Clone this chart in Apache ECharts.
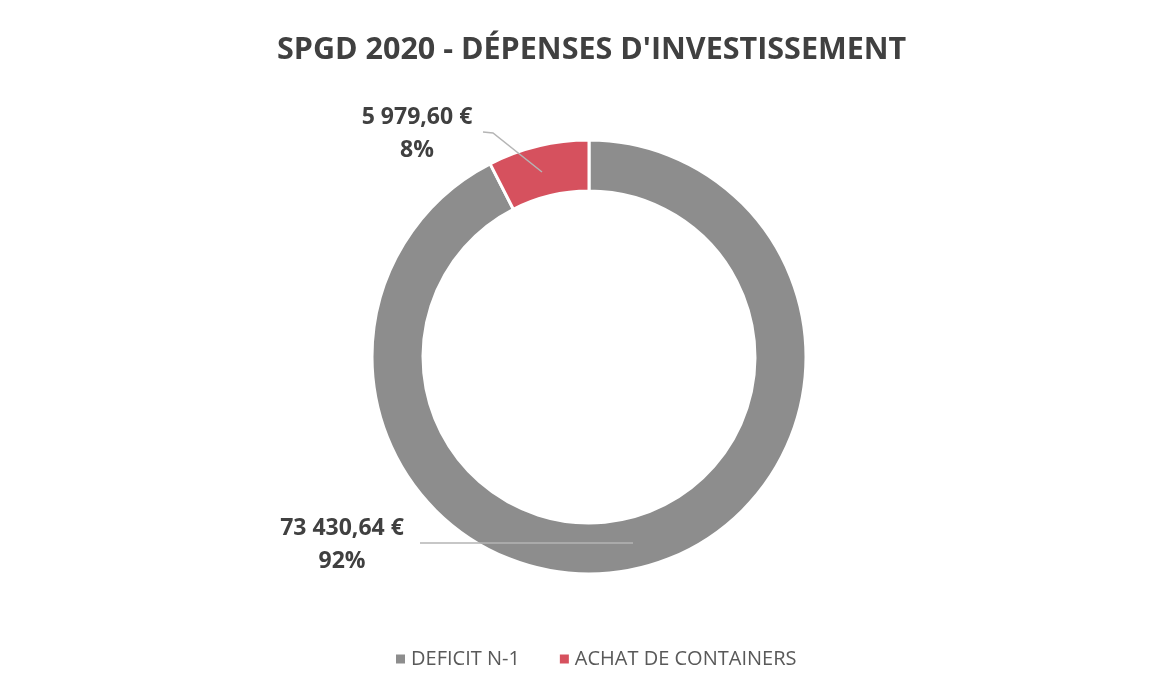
<!DOCTYPE html>
<html>
<head>
<meta charset="utf-8">
<script src="https://cdn.jsdelivr.net/npm/echarts@6/dist/echarts.min.js"></script>
<style>
  html, body { margin: 0; padding: 0; background: #fff; }
  #main { width: 1158px; height: 694px; }
</style>
</head>
<body>
<div id="main"></div>
<script>
// données du graphique
var categories = ['DEFICIT N-1', 'ACHAT DE CONTAINERS'];
var montants = [73430.64, 5979.60];
var couleurs = ['#8d8d8d', '#d6515e'];

// format "73 430,64 €"
function formatEuro(v) {
    var parts = v.toFixed(2).split('.');
    var ent = parts[0].replace(/\B(?=(\d{3})+(?!\d))/g, ' ');
    return ent + ',' + parts[1] + ' €';
}

var police = '"Open Sans", "Noto Sans", sans-serif';

// position des étiquettes (comme dans Excel)
var etiquettes = [
    { x: 342, y: 545, ligne: [[420, 543], [633, 543]] },
    { x: 417, y: 134, ligne: [[483, 132], [493, 133], [542, 172]] }
];

var donnees = categories.map(function (c, i) {
    return { name: c, value: montants[i] };
});

var centre = [589, 357];
var rayons = [166, 217];

var myChart = echarts.init(document.getElementById('main'));
var option = {
    backgroundColor: '#fff',
    title: {
        text: "SPGD 2020 - DÉPENSES D'INVESTISSEMENT",
        left: 272,
        top: 30,
        textStyle: {
            fontFamily: police,
            fontSize: 30.5,
            fontWeight: 'bold',
            color: '#404040'
        }
    },
    legend: {
        bottom: 20,
        left: 389,
        itemWidth: 11,
        itemHeight: 11,
        itemGap: 38,
        icon: 'rect',
        data: categories,
        textStyle: {
            fontFamily: police,
            fontSize: 20,
            color: '#595959'
        }
    },
    color: couleurs,
    series: [
        // anneau
        {
            name: 'Dépenses',
            type: 'pie',
            z: 2,
            center: centre,
            radius: rayons,
            startAngle: 90,
            clockwise: true,
            itemStyle: {
                borderColor: '#fff',
                borderWidth: 3
            },
            label: { show: false },
            labelLine: { show: false },
            emphasis: { scale: false },
            data: donnees
        },
        // étiquettes + traits de rappel au-dessus de l'anneau
        {
            name: 'Etiquettes',
            type: 'pie',
            z: 5,
            silent: true,
            center: centre,
            radius: rayons,
            startAngle: 90,
            clockwise: true,
            avoidLabelOverlap: false,
            itemStyle: {
                color: 'rgba(0,0,0,0)',
                borderWidth: 0
            },
            label: {
                show: true,
                position: 'outside',
                formatter: function (p) {
                    return formatEuro(p.value) + '\n' + Math.round(p.percent) + '%';
                },
                fontFamily: police,
                fontSize: 23,
                fontWeight: 'bold',
                lineHeight: 33,
                color: '#404040',
                opacity: 1,
                align: 'center'
            },
            labelLine: {
                show: true,
                lineStyle: { color: '#b5b5b5', width: 1.5, opacity: 1 }
            },
            labelLayout: function (params) {
                var e = etiquettes[params.dataIndex];
                return {
                    x: e.x,
                    y: e.y,
                    align: 'center',
                    verticalAlign: 'middle',
                    labelLinePoints: e.ligne
                };
            },
            data: donnees
        }
    ]
};
myChart.setOption(option);
</script>
</body>
</html>
